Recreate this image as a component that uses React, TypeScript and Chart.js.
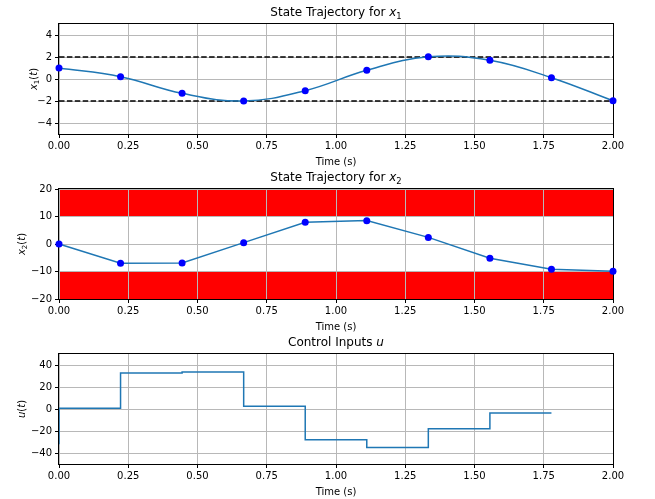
import React, { useEffect, useRef } from 'react';
import { Chart, registerables } from 'chart.js';

Chart.register(...registerables);

// ---- data ----
const times = [0, 0.2222, 0.4444, 0.6667, 0.8889, 1.1111, 1.3333, 1.5556, 1.7778, 2.0];
const x1Values = [1.0, 0.21, -1.3, -2.0, -1.06, 0.79, 2.02, 1.7, 0.12, -1.98];
const x2Values = [0, -7.0, -6.9, 0.5, 7.9, 8.5, 2.4, -5.2, -9.2, -9.9];
const uTimes = [0, 0, 0.2222, 0.4444, 0.6667, 0.8889, 1.1111, 1.3333, 1.5556, 1.7778];
const uValues = [-32, 0.6, 32.7, 33.6, 2.6, -28, -35, -18, -3.7, -3.7];
const x1Bounds = [2, -2];
const x2UpperBand = [10, 20];
const x2LowerBand = [-20, -10];

const timeRange = [0, 2];
const x1Range = [-5, 5];
const x2Range = [-20, 20];
const uRange = [-50, 50];

const timeTicks = [0, 0.25, 0.5, 0.75, 1.0, 1.25, 1.5, 1.75, 2.0];
const x1Ticks = [-4, -2, 0, 2, 4];
const x2Ticks = [-20, -10, 0, 10, 20];
const uTicks = [-40, -20, 0, 20, 40];

type Seg = { t: string; it?: boolean; sub?: boolean };
const title1: Seg[] = [{ t: 'State Trajectory for ' }, { t: 'x', it: true }, { t: '1', sub: true }];
const title2: Seg[] = [{ t: 'State Trajectory for ' }, { t: 'x', it: true }, { t: '2', sub: true }];
const title3: Seg[] = [{ t: 'Control Inputs ' }, { t: 'u', it: true }];
const ylabel1: Seg[] = [{ t: 'x', it: true }, { t: '1', sub: true }, { t: '(' }, { t: 't', it: true }, { t: ')' }];
const ylabel2: Seg[] = [{ t: 'x', it: true }, { t: '2', sub: true }, { t: '(' }, { t: 't', it: true }, { t: ')' }];
const ylabel3: Seg[] = [{ t: 'u', it: true }, { t: '(' }, { t: 't', it: true }, { t: ')' }];
const xlabel: Seg[] = [{ t: 'Time (s)' }];

const FAMILY = '"DejaVu Sans", sans-serif';
const LINE_BLUE = '#1f77b4';
const GRID = '#b8b8b8';
const PANEL_H = 175;

function drawRich(ctx: CanvasRenderingContext2D, segs: Seg[], size: number, cx: number, cy: number, rotate: boolean) {
  ctx.save();
  ctx.translate(cx, cy);
  if (rotate) ctx.rotate(-Math.PI / 2);
  const fontOf = (s: Seg) => `${s.it ? 'italic ' : ''}${s.sub ? (size * 0.7).toFixed(1) : size}px ${FAMILY}`;
  let total = 0;
  const widths = segs.map((s) => {
    ctx.font = fontOf(s);
    const w = ctx.measureText(s.t).width;
    total += w;
    return w;
  });
  let x = -total / 2;
  ctx.fillStyle = '#000';
  ctx.textBaseline = 'alphabetic';
  ctx.textAlign = 'left';
  const base = size * 0.36;
  segs.forEach((s, i) => {
    ctx.font = fontOf(s);
    ctx.fillText(s.t, x, base + (s.sub ? size * 0.22 : 0));
    x += widths[i];
  });
  ctx.restore();
}

const tickFont = { family: FAMILY, size: 10 };

function xScale() {
  return {
    type: 'linear',
    min: timeRange[0],
    max: timeRange[1],
    afterBuildTicks: (s: any) => {
      s.ticks = timeTicks.map((v) => ({ value: v }));
    },
    afterFit: (s: any) => {
      s.height = PANEL_H - 134;
    },
    grid: { color: GRID, lineWidth: 1, tickColor: '#000', tickLength: 4, tickWidth: 1 },
    border: { display: false },
    ticks: {
      font: tickFont,
      color: '#000',
      padding: 2,
      maxRotation: 0,
      autoSkip: false,
      callback: (v: any) => Number(v).toFixed(2),
    },
  };
}

function yScale(range: number[], ticks: number[]) {
  return {
    type: 'linear',
    min: range[0],
    max: range[1],
    afterBuildTicks: (s: any) => {
      s.ticks = ticks.map((v) => ({ value: v }));
    },
    afterFit: (s: any) => {
      s.width = 59;
    },
    grid: { color: GRID, lineWidth: 1, tickColor: '#000', tickLength: 4, tickWidth: 1 },
    border: { display: false },
    ticks: {
      font: tickFont,
      color: '#000',
      padding: 3,
      callback: (v: any) => String(v).replace('-', '\u2212'),
    },
  };
}

function decor(title: Seg[], ylabel: Seg[], ylabelX: number) {
  return {
    id: 'decor',
    beforeDatasetsDraw(chart: any) {
      const { ctx, chartArea: a } = chart;
      ctx.save();
      ctx.strokeStyle = '#000';
      ctx.lineWidth = 1;
      ctx.strokeRect(Math.round(a.left) - 0.5, Math.round(a.top) - 0.5, Math.round(a.right - a.left) + 1, Math.round(a.bottom - a.top) + 1);
      ctx.restore();
    },
    afterDraw(chart: any) {
      const { ctx, chartArea: a } = chart;
      const cx = (a.left + a.right) / 2;
      drawRich(ctx, title, 12, cx, 12, false);
      drawRich(ctx, ylabel, 10, ylabelX, (a.top + a.bottom) / 2, true);
      drawRich(ctx, xlabel, 10, cx, 161, false);
    },
  };
}

function pts(xs: number[], ys: number[]) {
  return xs.map((x, i) => ({ x, y: ys[i] }));
}

function config(kind: number): any {
  const common = {
    animation: false,
    responsive: true,
    maintainAspectRatio: false,
    events: [],
    layout: { padding: { top: 24, right: 42, left: 0, bottom: 0 } },
    plugins: {
      legend: { display: false },
      tooltip: { enabled: false },
      filler: { propagate: false, drawTime: 'beforeDraw' },
    },
  };
  if (kind === 1) {
    return {
      type: 'line',
      data: {
        datasets: [
          {
            data: pts(times, x1Values),
            borderColor: LINE_BLUE,
            borderWidth: 1.5,
            tension: 0.4,
            pointRadius: 3.5,
            pointBackgroundColor: '#0000ff',
            pointBorderWidth: 0,
            clip: false,
            fill: false,
          },
          ...x1Bounds.map((b) => ({
            data: pts(timeRange, [b, b]),
            borderColor: '#000',
            borderWidth: 1.5,
            borderDash: [5.5, 2.4],
            pointRadius: 0,
            fill: false,
            clip: false,
          })),
        ],
      },
      options: { ...common, scales: { x: xScale(), y: yScale(x1Range, x1Ticks) } },
      plugins: [decor(title1, ylabel1, 33)],
    };
  }
  if (kind === 2) {
    return {
      type: 'line',
      data: {
        datasets: [
          {
            data: pts(times, x2Values),
            borderColor: LINE_BLUE,
            borderWidth: 1.5,
            tension: 0,
            pointRadius: 3.5,
            pointBackgroundColor: '#0000ff',
            pointBorderWidth: 0,
            clip: false,
            fill: false,
          },
          {
            data: pts(timeRange, [x2UpperBand[1], x2UpperBand[1]]),
            borderWidth: 0,
            pointRadius: 0,
            backgroundColor: '#ff0000',
            fill: { value: x2UpperBand[0] },
          },
          {
            data: pts(timeRange, [x2LowerBand[1], x2LowerBand[1]]),
            borderWidth: 0,
            pointRadius: 0,
            backgroundColor: '#ff0000',
            fill: { value: x2LowerBand[0] },
          },
        ],
      },
      options: { ...common, scales: { x: xScale(), y: yScale(x2Range, x2Ticks) } },
      plugins: [decor(title2, ylabel2, 21)],
    };
  }
  return {
    type: 'line',
    data: {
      datasets: [
        {
          data: pts(uTimes, uValues),
          borderColor: LINE_BLUE,
          borderWidth: 1.5,
          stepped: 'before',
          pointRadius: 0,
          fill: false,
        },
      ],
    },
    options: { ...common, scales: { x: xScale(), y: yScale(uRange, uTicks) } },
    plugins: [decor(title3, ylabel3, 21)],
  };
}

function Panel({ kind, top }: { kind: number; top: number }) {
  const ref = useRef<HTMLCanvasElement>(null);
  useEffect(() => {
    if (!ref.current) return;
    const chart = new Chart(ref.current, config(kind));
    return () => chart.destroy();
  }, [kind]);
  return (
    <div style={{ position: 'absolute', left: 0, top, width: 655, height: PANEL_H }}>
      <canvas ref={ref} />
    </div>
  );
}

export default function App() {
  return (
    <div style={{ position: 'fixed', left: 0, top: 0, width: 655, height: 499, background: '#fff', overflow: 'hidden' }}>
      <Panel kind={1} top={0} />
      <Panel kind={2} top={165} />
      <Panel kind={3} top={330} />
    </div>
  );
}
